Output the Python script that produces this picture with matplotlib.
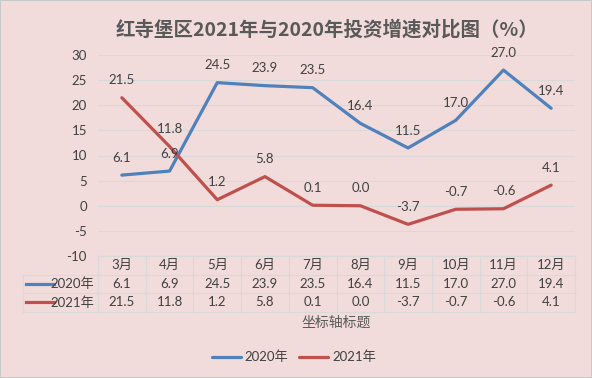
import matplotlib
matplotlib.use("Agg")
import matplotlib.pyplot as plt
import matplotlib.transforms as mtrans
from matplotlib.lines import Line2D
from matplotlib.patches import Rectangle

plt.rcParams['font.family'] = ['Lato', 'Noto Sans CJK SC', 'DejaVu Sans']

months = ["3月", "4月", "5月", "6月", "7月", "8月", "9月", "10月", "11月", "12月"]
y2020 = [6.1, 6.9, 24.5, 23.9, 23.5, 16.4, 11.5, 17.0, 27.0, 19.4]
y2021 = [21.5, 11.8, 1.2, 5.8, 0.1, 0.0, -3.7, -0.7, -0.6, 4.1]
series_names = ["2020年", "2021年"]
yticks = [-10, -5, 0, 5, 10, 15, 20, 25, 30]

blue = "#4F81BD"
red = "#C0504D"
bg = "#F2DCDB"
grid = "#D9D9D9"
txt = "#404040"

W, H = 592, 378
fig = plt.figure(figsize=(W / 100, H / 100), dpi=100, facecolor=bg)
ax = fig.add_axes([98 / W, 1 - 256 / H, 477 / W, 201 / H])
ax.set_facecolor(bg)

x = list(range(len(months)))
l1, = ax.plot(x, y2020, color=blue, lw=2.3, solid_capstyle="round", label=series_names[0])
l2, = ax.plot(x, y2021, color=red, lw=2.3, solid_capstyle="round", label=series_names[1])

for xs, ys in [(x, y2020), (x, y2021)]:
    for xi, yi in zip(xs, ys):
        ax.annotate(f"{yi:.1f}", (xi, yi), xytext=(0, 12.5), textcoords="offset points",
                    ha="center", va="center", fontsize=9.5, color=txt)

ax.set_xlim(-0.5, len(months) - 0.5)
ax.set_ylim(-10, 30)
ax.set_yticks(yticks)
ax.set_yticklabels([str(t) for t in yticks], fontsize=9.5, color=txt)
ax.tick_params(axis="y", length=0, pad=8)
ax.set_xticks([])
ax.grid(axis="y", color=grid, lw=0.9)
ax.set_axisbelow(True)
for s in ax.spines.values():
    s.set_visible(False)

# data table under the plot
tr = mtrans.blended_transform_factory(ax.transData, ax.transAxes)
rh = 18.5 / 201
left_x = -0.5 - 75 / 47.7
n = len(months)
kw = dict(transform=tr, color=grid, lw=0.9, clip_on=False)
ax.add_line(Line2D([-0.5, n - 0.5], [0, 0], **kw))
for k in (1, 2, 3):
    ax.add_line(Line2D([left_x, n - 0.5], [-k * rh, -k * rh], **kw))
for i in range(n + 1):
    ax.add_line(Line2D([i - 0.5, i - 0.5], [0, -3 * rh], **kw))
ax.add_line(Line2D([left_x, left_x], [-rh, -3 * rh], **kw))

for i, m in enumerate(months):
    ax.text(i, -0.5 * rh, m, transform=tr, ha="center", va="center", fontsize=9.5, color=txt)
    ax.text(i, -1.5 * rh, f"{y2020[i]:.1f}", transform=tr, ha="center", va="center", fontsize=9.5, color=txt)
    ax.text(i, -2.5 * rh, f"{y2021[i]:.1f}", transform=tr, ha="center", va="center", fontsize=9.5, color=txt)

for k, (name, c) in enumerate(zip(series_names, [blue, red])):
    yy = -(k + 1.5) * rh
    ax.add_line(Line2D([left_x + 0.07, left_x + 0.66], [yy, yy], transform=tr, color=c, lw=2.3, clip_on=False))
    ax.text(-0.57, yy, name, transform=tr, ha="right", va="center", fontsize=9.5, color=txt)

ax.text(0.5, -(323 - 256) / 201, "坐标轴标题", transform=ax.transAxes, ha="center", va="center",
        fontsize=10, color="#595959", family=['Noto Sans CJK SC', 'DejaVu Sans'])

fig.text(327 / W, 1 - 30 / H, "红寺堡区2021年与2020年投资增速对比图（%）", ha="center", va="center",
         fontsize=14, fontweight="bold", color="#595959", family=['Noto Sans CJK SC', 'DejaVu Sans'])

fig.legend(handles=[l1, l2], loc="center", bbox_to_anchor=(294 / W, 1 - 357 / H), ncol=2,
           frameon=False, fontsize=9.5, handlelength=2.2, handletextpad=0.3, columnspacing=0.8,
           labelcolor=txt)

fig.patches.append(Rectangle((0, 0), 1, 1, transform=fig.transFigure, fill=False,
                             edgecolor="#C8C8C8", lw=1.5))

fig.savefig("out.png", dpi=100, facecolor=bg)
